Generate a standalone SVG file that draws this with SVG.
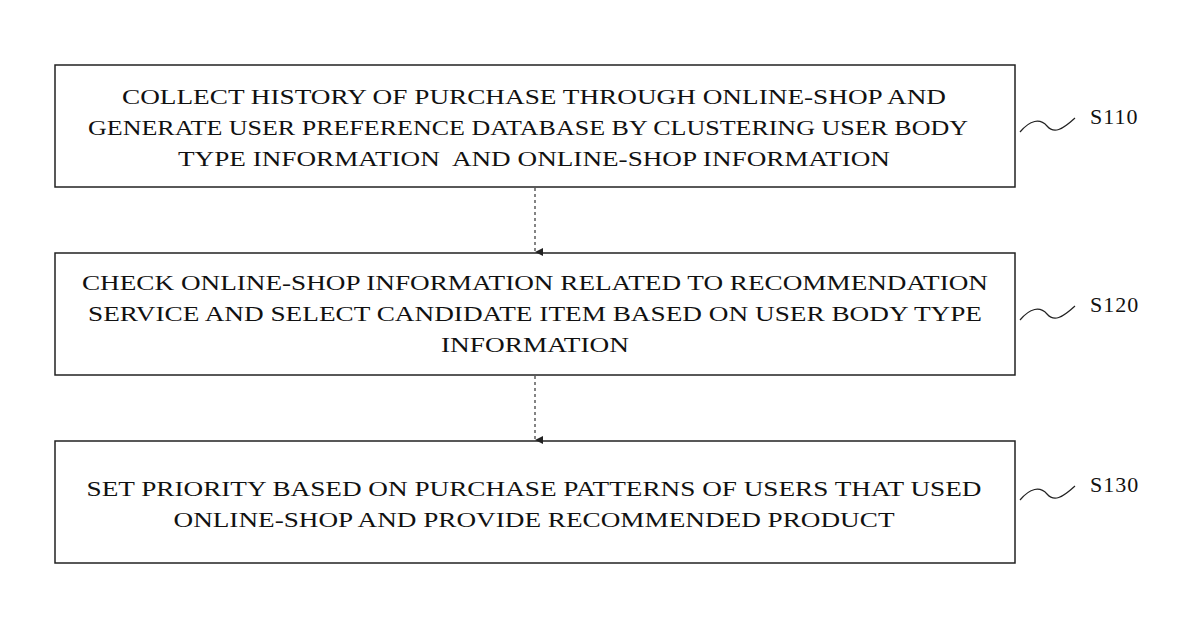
<svg xmlns="http://www.w3.org/2000/svg" width="1200" height="630" viewBox="0 0 1200 630">
<style>
.box{fill:#fff;stroke:#222;stroke-width:1.5}
.t{font-family:"Liberation Serif",serif;font-size:22px;fill:#111;text-anchor:middle}
.lab{font-family:"Liberation Serif",serif;font-size:22px;fill:#111;letter-spacing:1px}
.conn{stroke:#333;stroke-width:1.2;stroke-dasharray:3,3;fill:none}
.sq{stroke:#222;stroke-width:1.2;fill:none}
</style>
<defs><marker id="ah" markerWidth="10" markerHeight="10" refX="5" refY="8" orient="auto" markerUnits="userSpaceOnUse"><path d="M1,0 L9,0 L5,8 Z" fill="#222"/></marker></defs>
<rect width="1200" height="630" fill="#fff"/>
<g id="n1"><rect class="box" x="55" y="65" width="960" height="122"/>
<text class="t" x="534" y="104" textLength="824" lengthAdjust="spacingAndGlyphs">COLLECT HISTORY OF PURCHASE THROUGH ONLINE-SHOP AND</text>
<text class="t" x="528" y="135" textLength="880" lengthAdjust="spacingAndGlyphs">GENERATE USER PREFERENCE DATABASE BY CLUSTERING USER BODY</text>
<text class="t" x="534" y="166" textLength="712" lengthAdjust="spacingAndGlyphs" xml:space="preserve">TYPE INFORMATION  AND ONLINE-SHOP INFORMATION</text>
<path class="sq" d="M1020,132 C1030,120 1040,118 1047,126 C1054,134 1062,130 1075,118"/>
<text class="lab" x="1090" y="124">S110</text></g>
<g id="n2"><rect class="box" x="55" y="253" width="960" height="122"/>
<text class="t" x="535" y="290" textLength="906" lengthAdjust="spacingAndGlyphs">CHECK ONLINE-SHOP INFORMATION RELATED TO RECOMMENDATION</text>
<text class="t" x="535" y="321" textLength="894" lengthAdjust="spacingAndGlyphs">SERVICE AND SELECT CANDIDATE ITEM BASED ON USER BODY TYPE</text>
<text class="t" x="535" y="352" textLength="188" lengthAdjust="spacingAndGlyphs">INFORMATION</text>
<path class="sq" d="M1020,320 C1030,308 1040,306 1047,314 C1054,322 1062,318 1075,306"/>
<text class="lab" x="1090" y="312">S120</text></g>
<g id="n3"><rect class="box" x="55" y="441" width="960" height="122"/>
<text class="t" x="534" y="496" textLength="895" lengthAdjust="spacingAndGlyphs">SET PRIORITY BASED ON PURCHASE PATTERNS OF USERS THAT USED</text>
<text class="t" x="534" y="527" textLength="721" lengthAdjust="spacingAndGlyphs">ONLINE-SHOP AND PROVIDE RECOMMENDED PRODUCT</text>
<path class="sq" d="M1020,500 C1030,488 1040,486 1047,494 C1054,502 1062,498 1075,486"/>
<text class="lab" x="1090" y="492">S130</text></g>
<g id="connectors">
<line class="conn" x1="535" y1="188" x2="535" y2="252" marker-end="url(#ah)"/>
<line class="conn" x1="535" y1="376" x2="535" y2="440" marker-end="url(#ah)"/>
</g>
</svg>
